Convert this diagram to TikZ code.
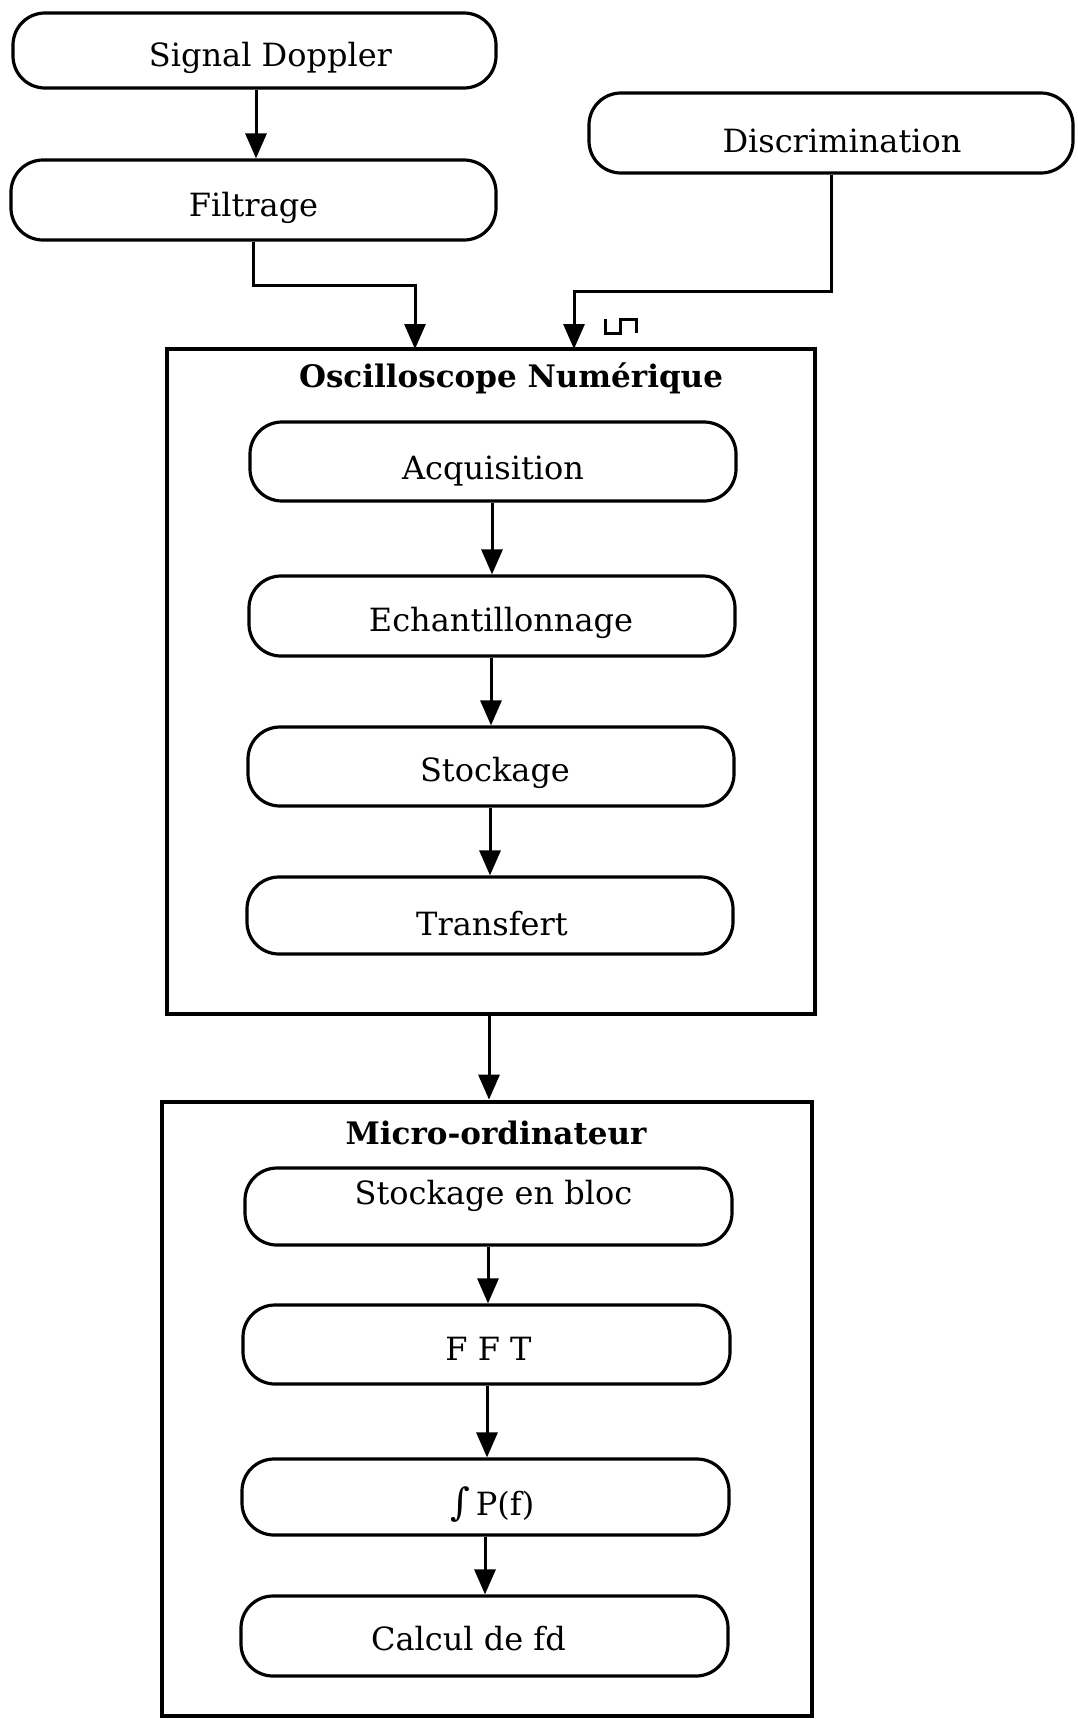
\documentclass[tikz,border=0pt]{standalone}
\usepackage{fontspec}
\setmainfont{DejaVu Serif}
\usetikzlibrary{arrows.meta}
\newcommand{\tsh}[3]{\raisebox{#2}[\height][\depth]{\hspace*{#1}#3}}
\begin{document}
\begin{tikzpicture}[x=1pt,y=-1pt,
  pill/.style={draw,line width=3.2pt,rounded corners=32pt,minimum width=486pt,minimum height=78pt,inner sep=0pt,font=\fontsize{32}{36}\selectfont},
  frame/.style={draw,line width=4.8pt,inner sep=0pt},
  ttl/.style={font=\fontsize{31}{34}\selectfont\bfseries,inner sep=0pt},
  arr/.style={line width=3pt,-{Triangle[length=25pt,width=21pt]}},
  ln/.style={line width=3pt}]
\useasboundingbox (0,0) rectangle (1077,1719);
% top nodes
\node[pill,minimum width=483pt,minimum height=75pt] (sd) at (254.5,50.5) {\tsh{32pt}{-7pt}{Signal Doppler}};
\node[pill,minimum width=485pt,minimum height=80pt] (fi) at (253.5,200) {\tsh{0pt}{-8pt}{Filtrage}};
\node[pill,minimum width=484pt,minimum height=80pt] (di) at (831,133) {\tsh{22pt}{-8pt}{Discrimination}};
% oscilloscope
\node[frame,minimum width=648pt,minimum height=665pt] (osc) at (491,681.5) {};
\node[ttl] (osct) at (511,378) {Oscilloscope Numérique};
\node[pill,minimum height=79pt] (acq) at (493,461.5) {\tsh{0pt}{-10pt}{Acquisition}};
\node[pill,minimum height=80pt] (ech) at (492,616) {\tsh{18pt}{-7pt}{Echantillonnage}};
\node[pill,minimum height=79pt] (sto) at (491,766.5) {\tsh{8pt}{-6pt}{Stockage}};
\node[pill,minimum height=77pt] (tra) at (490,915.5) {\tsh{4pt}{-8pt}{Transfert}};
% micro
\node[frame,minimum width=650pt,minimum height=614pt] (mic) at (487,1409) {};
\node[ttl] (mict) at (496,1133) {Micro-ordinateur};
\node[pill,minimum width=487pt,minimum height=77pt] (seb) at (488.5,1206.5) {\tsh{10pt}{11pt}{Stockage en bloc}};
\node[pill,minimum width=487pt,minimum height=79pt] (fft) at (486.5,1344.5) {\tsh{4pt}{-4pt}{F F T}};
\node[pill,minimum width=487pt,minimum height=76pt] (int) at (485.5,1497) {\tsh{14pt}{-8pt}{{\fontsize{38}{40}\selectfont ∫}\,P(f)}};
\node[pill,minimum width=487pt,minimum height=80pt] (cal) at (484.5,1636) {\tsh{-32pt}{-3pt}{Calcul de fd}};
% inputs
\coordinate (in1) at (415,349);
\coordinate (in2) at (574,349);
\coordinate (k1) at (0,285);
\coordinate (k2) at (0,291);
% connectors
\draw[arr] (sd.south -| 256,0) -- (fi.north -| 256,0);
\draw[arr] (fi.south) -- (fi.south |- k1) -| (in1);
\draw[arr] (di.south) -- (di.south |- k2) -| (in2);
\draw[ln] (605,319) -- (605,333) -- (620,333) -- (620,319) -- (636,319) -- (636,333);
\draw[arr] (acq.south -| 492,0) -- (ech.north -| 492,0);
\draw[arr] (ech.south -| 491,0) -- (sto.north -| 491,0);
\draw[arr] (sto.south -| 490,0) -- (tra.north -| 490,0);
\draw[arr] (osc.south -| 489,0) -- (mic.north -| 489,0);
\draw[arr] (seb.south -| 488,0) -- (fft.north -| 488,0);
\draw[arr] (fft.south -| 487,0) -- (int.north -| 487,0);
\draw[arr] (int.south -| 485,0) -- (cal.north -| 485,0);
\end{tikzpicture}
\end{document}
